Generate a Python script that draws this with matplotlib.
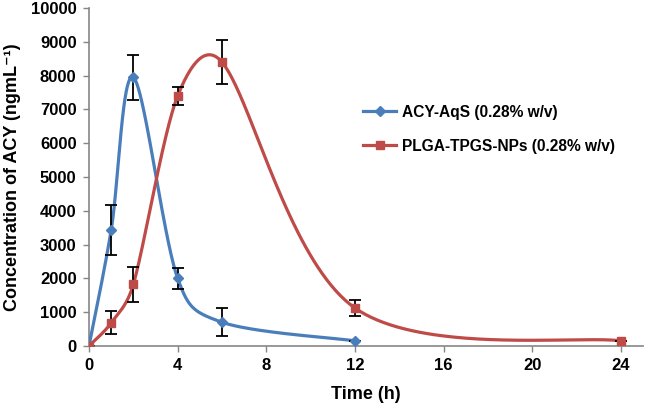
import matplotlib
matplotlib.use("Agg")
import matplotlib.pyplot as plt
import numpy as np

plt.rcParams['font.family'] = ['Liberation Sans', 'DejaVu Sans']
plt.rcParams['font.weight'] = 'bold'

# data
t_aqs = [0, 1, 2, 4, 6, 12]
c_aqs = [0, 3430, 7950, 2000, 700, 150]
e_aqs = [0, 750, 660, 310, 420, 0]

t_np = [0, 1, 2, 4, 6, 12, 24]
c_np = [0, 680, 1820, 7400, 8400, 1120, 150]
e_np = [0, 340, 520, 270, 660, 250, 0]

x_ticks = [0, 4, 8, 12, 16, 20, 24]
y_ticks = [0, 1000, 2000, 3000, 4000, 5000, 6000, 7000, 8000, 9000, 10000]

blue = '#4A7EBB'
red = '#BE4B48'


def excel_smooth(ax, x, y, n=80):
    # bezier smoothing like the spreadsheet "smoothed line", done in pixel space
    p = ax.transData.transform(np.column_stack([x, y]))
    m = len(p)
    out = []
    for i in range(m - 1):
        p0 = p[max(i - 1, 0)]
        p1 = p[i]
        p2 = p[i + 1]
        p3 = p[min(i + 2, m - 1)]
        d12 = np.hypot(*(p2 - p1))
        d02 = np.hypot(*(p2 - p0))
        d13 = np.hypot(*(p3 - p1))
        f0 = 1 / 6
        f1 = 1 / 6
        if d02 / 6 >= d12 / 2 and d02 > 0:
            f0 = d12 / d02 / 2
        if d13 / 6 >= d12 / 2 and d13 > 0:
            f1 = d12 / d13 / 2
        c1 = p1 + (p2 - p0) * f0
        c2 = p2 - (p3 - p1) * f1
        s = np.linspace(0, 1, n)[:, None]
        b = (1-s)**3*p1 + 3*(1-s)**2*s*c1 + 3*(1-s)*s**2*c2 + s**3*p2
        out.append(b)
    pts = ax.transData.inverted().transform(np.vstack(out))
    return pts[:, 0], pts[:, 1]


fig = plt.figure(figsize=(6.45, 4.05), dpi=100)
ax = fig.add_axes([0.138, 0.146, 0.859, 0.834])
ax.set_xlim(0, 25)
ax.set_ylim(0, 10000)

sx, sy = excel_smooth(ax, t_aqs, c_aqs)
ax.plot(sx, sy, color=blue, lw=2.3, zorder=3)
sx, sy = excel_smooth(ax, t_np, c_np)
ax.plot(sx, sy, color=red, lw=2.3, zorder=3)

ax.errorbar(t_aqs, c_aqs, yerr=e_aqs, fmt='none', ecolor='black', elinewidth=1.3, capsize=4, capthick=1.3, zorder=4)
ax.errorbar(t_np, c_np, yerr=e_np, fmt='none', ecolor='black', elinewidth=1.3, capsize=4, capthick=1.3, zorder=4)

ax.plot(t_aqs, c_aqs, 'D', color=blue, ms=5.5, zorder=5)
ax.plot(t_np, c_np, 's', color=red, ms=5.5, zorder=5)

# legend handles
h1, = ax.plot([], [], color=blue, lw=2.3, marker='D', ms=5.5)
h2, = ax.plot([], [], color=red, lw=2.3, marker='s', ms=5.5)
leg = ax.legend([h1, h2], ['ACY-AqS (0.28% w/v)', 'PLGA-TPGS-NPs (0.28% w/v)'],
                loc='upper left', bbox_to_anchor=(0.47, 0.755), frameon=False,
                fontsize=11.2, handlelength=2.1, handletextpad=0.4, labelspacing=1.2)
for txt in leg.get_texts():
    txt.set_fontweight('bold')

ax.set_xticks(x_ticks)
ax.set_yticks(y_ticks)
ax.tick_params(labelsize=12, colors='black', length=4, width=1, pad=5)
ax.tick_params(axis='both', color='#868686')
for lab in ax.get_xticklabels() + ax.get_yticklabels():
    lab.set_fontweight('bold')

for side in ['top', 'right']:
    ax.spines[side].set_visible(False)
for side in ['left', 'bottom']:
    ax.spines[side].set_color('#868686')
    ax.spines[side].set_linewidth(1.2)

ax.set_xlabel('Time (h)', fontsize=13, fontweight='bold', labelpad=9)
ax.set_ylabel('Concentration of ACY (ngmL\u207b\u00b9)', fontsize=13, fontweight='bold', labelpad=7)

fig.savefig('out.png', dpi=100)
